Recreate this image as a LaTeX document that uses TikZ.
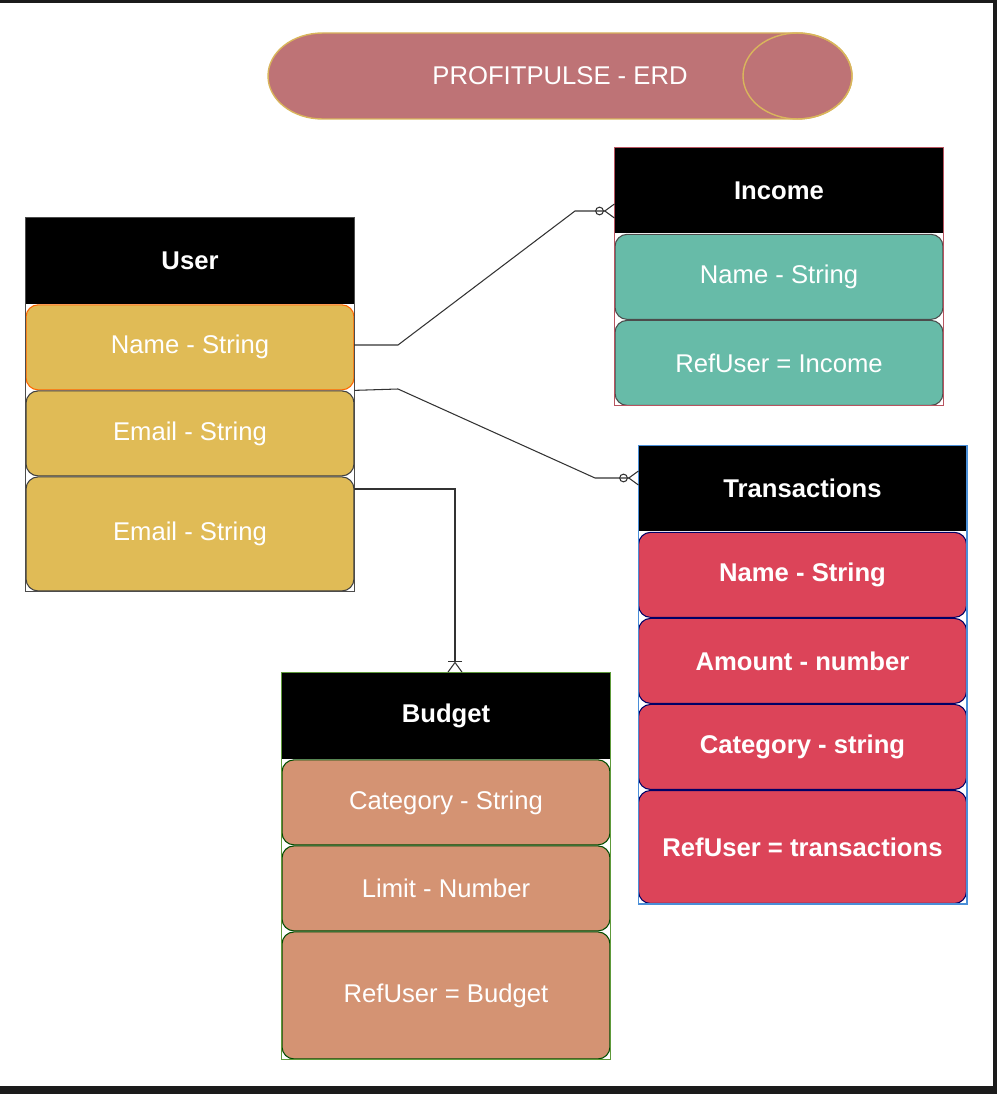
\documentclass[tikz,border=0pt]{standalone}
\usepackage{fontspec}
\setmainfont{Liberation Sans}
\usepackage{xcolor}
\usetikzlibrary{arrows.meta,positioning,calc}

\definecolor{bandgray}{HTML}{1B1B1B}
\definecolor{titlefill}{HTML}{BE7376}
\definecolor{titleline}{HTML}{D9B55C}
\definecolor{usergold}{HTML}{E0BB56}
\definecolor{incometeal}{HTML}{67BBA8}
\definecolor{transred}{HTML}{DC4459}
\definecolor{budgetsalmon}{HTML}{D49373}
\definecolor{incomeline}{HTML}{B85460}
\definecolor{transline}{HTML}{4A8FD8}
\definecolor{budgetline}{HTML}{5E9A3A}

\begin{document}
\begin{tikzpicture}[x=0.02cm, y=-0.02cm,
    head/.style={fill=black, text=white, font=\bfseries\fontsize{14.6}{17}\selectfont,
        minimum width=6.56cm, minimum height=1.72cm, inner sep=0pt},
    field/.style={draw, line width=0.6pt, rounded corners=0.24cm, text=white,
        font=\fontsize{14.6}{17}\selectfont, minimum width=6.56cm, minimum height=1.70cm, inner sep=0pt},
    link/.style={draw=black!80, line width=0.6pt},
    zeromany/.style={link, -{Circle[open,length=5pt] Straight Barb[reversed,length=5.5pt,width=8pt]}},
    onemany/.style={link, -{Bar[width=8pt] Straight Barb[reversed,length=5.5pt,width=8pt]}}]
\useasboundingbox (0,0) rectangle (997,1094);

% screenshot frame
\fill[bandgray] (0,0) rectangle (997,3);
\fill[bandgray] (993,0) rectangle (997,1094);
\fill[bandgray] (0,1086) rectangle (997,1094);

% title
\draw[fill=titlefill, draw=titleline, line width=0.8pt] (322.5,33) -- (797.5,33)
    arc[start angle=90, end angle=-90, x radius=1.09cm, y radius=0.86cm] -- (322.5,119)
    arc[start angle=270, end angle=90, x radius=1.09cm, y radius=0.86cm] -- cycle;
\draw[draw=titleline, line width=0.8pt] (797.5,76) ellipse[x radius=1.09cm, y radius=0.86cm];
\node[text=white, font=\fontsize{14.6}{17}\selectfont] (title) at (560,76) {PROFITPULSE - ERD};

% User
\node[head] (uhead) at (190,261) {User};
\node[field, fill=usergold, draw=orange!80!red, below=0pt of uhead] (uname) {Name - String};
\node[field, fill=usergold, draw=black!75, below=0pt of uname] (uemail) {Email - String};
\node[field, fill=usergold, draw=black!75, minimum height=2.28cm, below=0pt of uemail] (uemailb) {Email - String};
\draw[black!70, line width=0.5pt] (uhead.north west) rectangle (uemailb.south east);

% Income
\node[head] (ihead) at (779,190.5) {Income};
\node[field, fill=incometeal, draw=black!70, below=0pt of ihead] (iname) {Name - String};
\node[field, fill=incometeal, draw=black!70, below=0pt of iname] (iref) {RefUser = Income};
\draw[incomeline, line width=0.6pt] (ihead.north west) rectangle (iref.south east);

% Transactions
\node[head] (thead) at (802.5,488.5) {Transactions};
\node[field, fill=transred, draw=blue!40!black, font=\bfseries\fontsize{14.6}{17}\selectfont, below=0pt of thead] (tname) {Name - String};
\node[field, fill=transred, draw=blue!40!black, font=\bfseries\fontsize{14.6}{17}\selectfont, below=0pt of tname] (tamount) {Amount - number};
\node[field, fill=transred, draw=blue!40!black, font=\bfseries\fontsize{14.6}{17}\selectfont, below=0pt of tamount] (tcat) {Category - string};
\node[field, fill=transred, draw=blue!40!black, font=\bfseries\fontsize{14.6}{17}\selectfont, minimum height=2.26cm, below=0pt of tcat] (tref) {RefUser = transactions};
\draw[transline, line width=0.6pt] (thead.north west) rectangle (tref.south east);

% Budget
\node[head] (bhead) at (446,716) {Budget};
\node[field, fill=budgetsalmon, draw=green!30!black, below=0pt of bhead] (bcat) {Category - String};
\node[field, fill=budgetsalmon, draw=green!30!black, below=0pt of bcat] (blimit) {Limit - Number};
\node[field, fill=budgetsalmon, draw=green!30!black, minimum height=2.54cm, below=0pt of blimit] (bref) {RefUser = Budget};
\draw[budgetline, line width=0.6pt] (bhead.north west) rectangle (bref.south east);

% relations
\coordinate (nameout) at (354,345);
\coordinate (incin) at (615,211);
\coordinate (transin) at (639,478);
\coordinate (budgetout) at (354,489);
\draw[zeromany] (nameout) -- (398,345) -- (575,211) -- (incin);
\draw[zeromany] (uname.south east) -- (398,389) -- (595,478) -- (transin);
\draw[onemany] (budgetout) -- (455,489) -- (bhead.north -| 455,0);
\end{tikzpicture}
\end{document}
